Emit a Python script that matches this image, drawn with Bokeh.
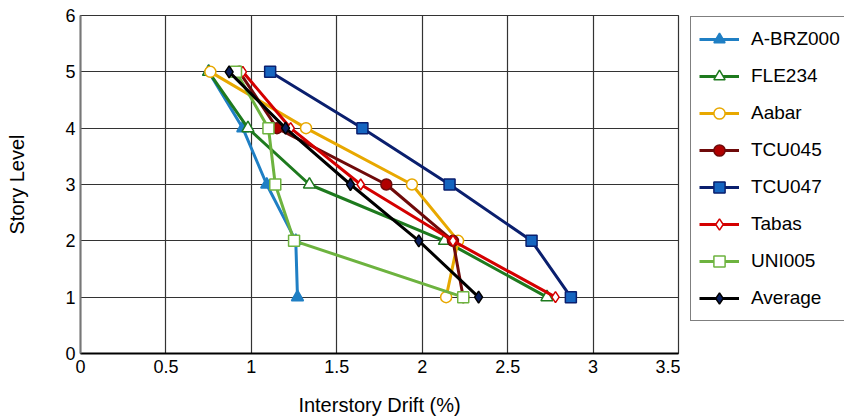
from bokeh.plotting import figure
from bokeh.models import Legend, LegendItem, FixedTicker
from bokeh.layouts import row
from bokeh.embed import file_html
from bokeh.resources import INLINE

story = [5, 4, 3, 2, 1]
abrz000 = [0.75, 0.95, 1.09, 1.26, 1.27]
fle234 = [0.75, 0.98, 1.34, 2.13, 2.73]
aabar = [0.76, 1.32, 1.94, 2.21, 2.14]
tcu045 = [0.93, 1.15, 1.79, 2.18, 2.24]
tcu047 = [1.11, 1.65, 2.16, 2.64, 2.87]
tabas = [0.95, 1.23, 1.64, 2.18, 2.78]
uni005 = [0.91, 1.10, 1.14, 1.25, 2.24]
average = [0.87, 1.20, 1.58, 1.98, 2.33]

x_ticks = [0, 0.5, 1, 1.5, 2, 2.5, 3, 3.5]
y_ticks = [0, 1, 2, 3, 4, 5, 6]

series = [
    ("A-BRZ000", abrz000, "#1F7FC4", "triangle", "#1F7FC4", "#1F7FC4", 12),
    ("FLE234", fle234, "#1E7A1E", "triangle", "white", "#1E7A1E", 12),
    ("Aabar", aabar, "#E8A800", "circle", "white", "#E8A800", 11),
    ("TCU045", tcu045, "#6E0A0A", "circle", "#B00000", "#6E0A0A", 11),
    ("TCU047", tcu047, "#0A1F6E", "square", "#1565C0", "#0A1F6E", 11),
    ("Tabas", tabas, "#D40000", "diamond", "white", "#D40000", 11),
    ("UNI005", uni005, "#6DB33F", "square", "white", "#6DB33F", 11),
    ("Average", average, "#000000", "diamond", "#0A1F5E", "#000000", 12),
]

FONT = "Liberation Sans"

p = figure(width=680, height=418, x_range=(0, 3.5), y_range=(0, 6),
           output_backend="svg", toolbar_location=None,
           min_border_left=80, min_border_right=2,
           min_border_top=15, min_border_bottom=65)
p.background_fill_color = "white"
p.border_fill_color = "white"
p.outline_line_color = "#333333"
p.outline_line_width = 1.2

p.xaxis.ticker = FixedTicker(ticks=x_ticks)
p.yaxis.ticker = FixedTicker(ticks=y_ticks)
p.xaxis.major_label_overrides = {0: "0", 0.5: "0.5", 1: "1", 1.5: "1.5", 2: "2",
                                 2.5: "2.5", 3: "3", 3.5: "3.5"}
for ax in (p.xaxis, p.yaxis):
    ax.major_tick_out = 0
    ax.major_tick_in = 0
    ax.minor_tick_out = 0
    ax.minor_tick_in = 0
    ax.major_label_text_font = FONT
    ax.major_label_text_font_size = "18px"
    ax.major_label_text_color = "black"
    ax.axis_label_text_font = FONT
    ax.axis_label_text_font_size = "20px"
    ax.axis_label_text_font_style = "normal"
    ax.axis_label_text_color = "black"

p.xaxis.axis_line_color = "black"
p.xaxis.axis_line_width = 2
p.yaxis.axis_line_color = "#777777"
p.yaxis.axis_line_width = 2
p.xaxis.axis_label = "Interstory Drift (%)"
p.yaxis.axis_label = "Story Level"
p.xaxis.major_label_standoff = 6
p.yaxis.major_label_standoff = 5
p.xaxis.axis_label_standoff = 18
p.yaxis.axis_label_standoff = 34

p.grid.grid_line_color = "#333333"
p.grid.grid_line_width = 1.2
p.grid.grid_line_alpha = 1.0

# legend-only figure on the right (its ranges keep the series out of view,
# so only the legend is seen)
lf = figure(width=164, height=418, x_range=(10, 11), y_range=(10, 11),
            output_backend="svg", toolbar_location=None,
            x_axis_type=None, y_axis_type=None,
            min_border_left=0, min_border_right=0,
            min_border_top=0, min_border_bottom=0)
lf.outline_line_color = None
lf.grid.visible = False
lf.background_fill_color = "white"
lf.border_fill_color = "white"

items = []
for name, xs, lc, marker, fill, edge, size in series:
    p.line(xs, story, line_color=lc, line_width=3)
    p.scatter(xs, story, marker=marker, size=size, fill_color=fill,
              line_color=edge, line_width=1.5)
    l1 = lf.line(xs, story, line_color=lc, line_width=3)
    l2 = lf.scatter(xs, story, marker=marker, size=size - 1, fill_color=fill,
                    line_color=edge, line_width=1.5)
    items.append(LegendItem(label=name, renderers=[l1, l2]))

legend = Legend(items=items, location=(10, 32))
legend.label_text_font = FONT
legend.label_text_font_size = "19px"
legend.label_text_color = "black"
legend.glyph_width = 40
legend.glyph_height = 28
legend.label_height = 28
legend.spacing = 9
legend.padding = 8
legend.margin = 0
legend.label_standoff = 12
legend.border_line_color = "black"
legend.border_line_width = 1
legend.background_fill_color = "white"
legend.background_fill_alpha = 1.0
lf.add_layout(legend, "center")

layout = row(p, lf, spacing=0)
open("out.html", "w").write(file_html(layout, INLINE))
